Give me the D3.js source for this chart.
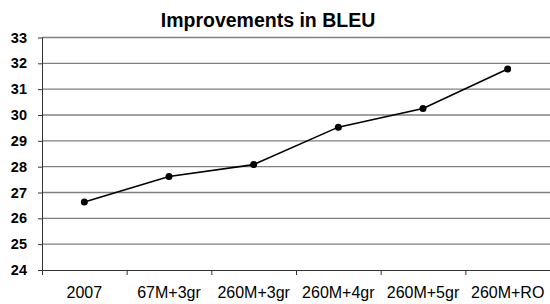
<!DOCTYPE html>
<html>
<head>
<meta charset="utf-8">
<script src="https://cdn.jsdelivr.net/npm/d3@7"></script>
<style>
  body { margin: 0; background: #fff; }
  text { font-family: "Liberation Sans", Arial, sans-serif; }
</style>
</head>
<body>
<div id="chart"></div>
<script>
// chart data
const categories = ["2007", "67M+3gr", "260M+3gr", "260M+4gr", "260M+5gr", "260M+RO"];
const bleu = [26.63, 27.62, 28.08, 29.53, 30.25, 31.78];
const yTicks = [24, 25, 26, 27, 28, 29, 30, 31, 32, 33];

const margin = { top: 37.5, right: 0, bottom: 34, left: 42 },
  width = 550 - margin.left - margin.right,
  height = 304 - margin.top - margin.bottom;

const svg = d3
  .select("#chart")
  .append("svg")
  .attr("width", 550)
  .attr("height", 304)
  .append("g")
  .attr("transform", "translate(" + margin.left + "," + margin.top + ")");

// title
svg
  .append("text")
  .attr("x", 268 - margin.left)
  .attr("y", 27 - margin.top)
  .attr("text-anchor", "middle")
  .style("font-size", "19.5px")
  .style("font-weight", "bold")
  .text("Improvements in BLEU");

const x = d3.scaleBand().domain(categories).range([0, width]);
const y = d3.scaleLinear().domain([24, 33]).range([height, 0]);

// gridlines
svg
  .append("g")
  .selectAll("line")
  .data(yTicks.filter((d) => d > 24))
  .enter()
  .append("line")
  .attr("x1", 0)
  .attr("x2", width)
  .attr("y1", (d) => y(d))
  .attr("y2", (d) => y(d))
  .attr("stroke", "#808080")
  .attr("stroke-width", 1.3);

// y axis
const yAxis = svg
  .append("g")
  .call(d3.axisLeft(y).tickValues(yTicks).tickSize(4).tickPadding(11).tickFormat(d3.format("d")));
yAxis.select(".domain").attr("stroke", "#333").attr("d", "M0.5," + y(33) + "V" + y(24));
yAxis.selectAll(".tick line").attr("stroke", "#333");
yAxis
  .selectAll("text")
  .style("font-size", "14.5px")
  .style("font-weight", "bold")
  .attr("fill", "#000");

// x axis
const xAxis = svg
  .append("g")
  .attr("transform", "translate(0," + height + ")")
  .call(d3.axisBottom(x).tickSize(0).tickPadding(17));
xAxis.select(".domain").attr("stroke", "#333");
xAxis.selectAll("text").style("font-size", "16px").attr("fill", "#000");

// tick marks between categories
svg
  .append("g")
  .selectAll("line")
  .data(categories)
  .enter()
  .append("line")
  .attr("x1", (d) => x(d) + 0.5)
  .attr("x2", (d) => x(d) + 0.5)
  .attr("y1", height)
  .attr("y2", height + 5)
  .attr("stroke", "#333");

// line
const line = d3
  .line()
  .x((d, i) => x(categories[i]) + x.bandwidth() / 2)
  .y((d) => y(d));

svg
  .append("path")
  .datum(bleu)
  .attr("fill", "none")
  .attr("stroke", "#000")
  .attr("stroke-width", 1.6)
  .attr("d", line);

svg
  .selectAll(".dot")
  .data(bleu)
  .enter()
  .append("circle")
  .attr("class", "dot")
  .attr("cx", (d, i) => x(categories[i]) + x.bandwidth() / 2)
  .attr("cy", (d) => y(d))
  .attr("r", 3.5)
  .attr("fill", "#000");
</script>
</body>
</html>
